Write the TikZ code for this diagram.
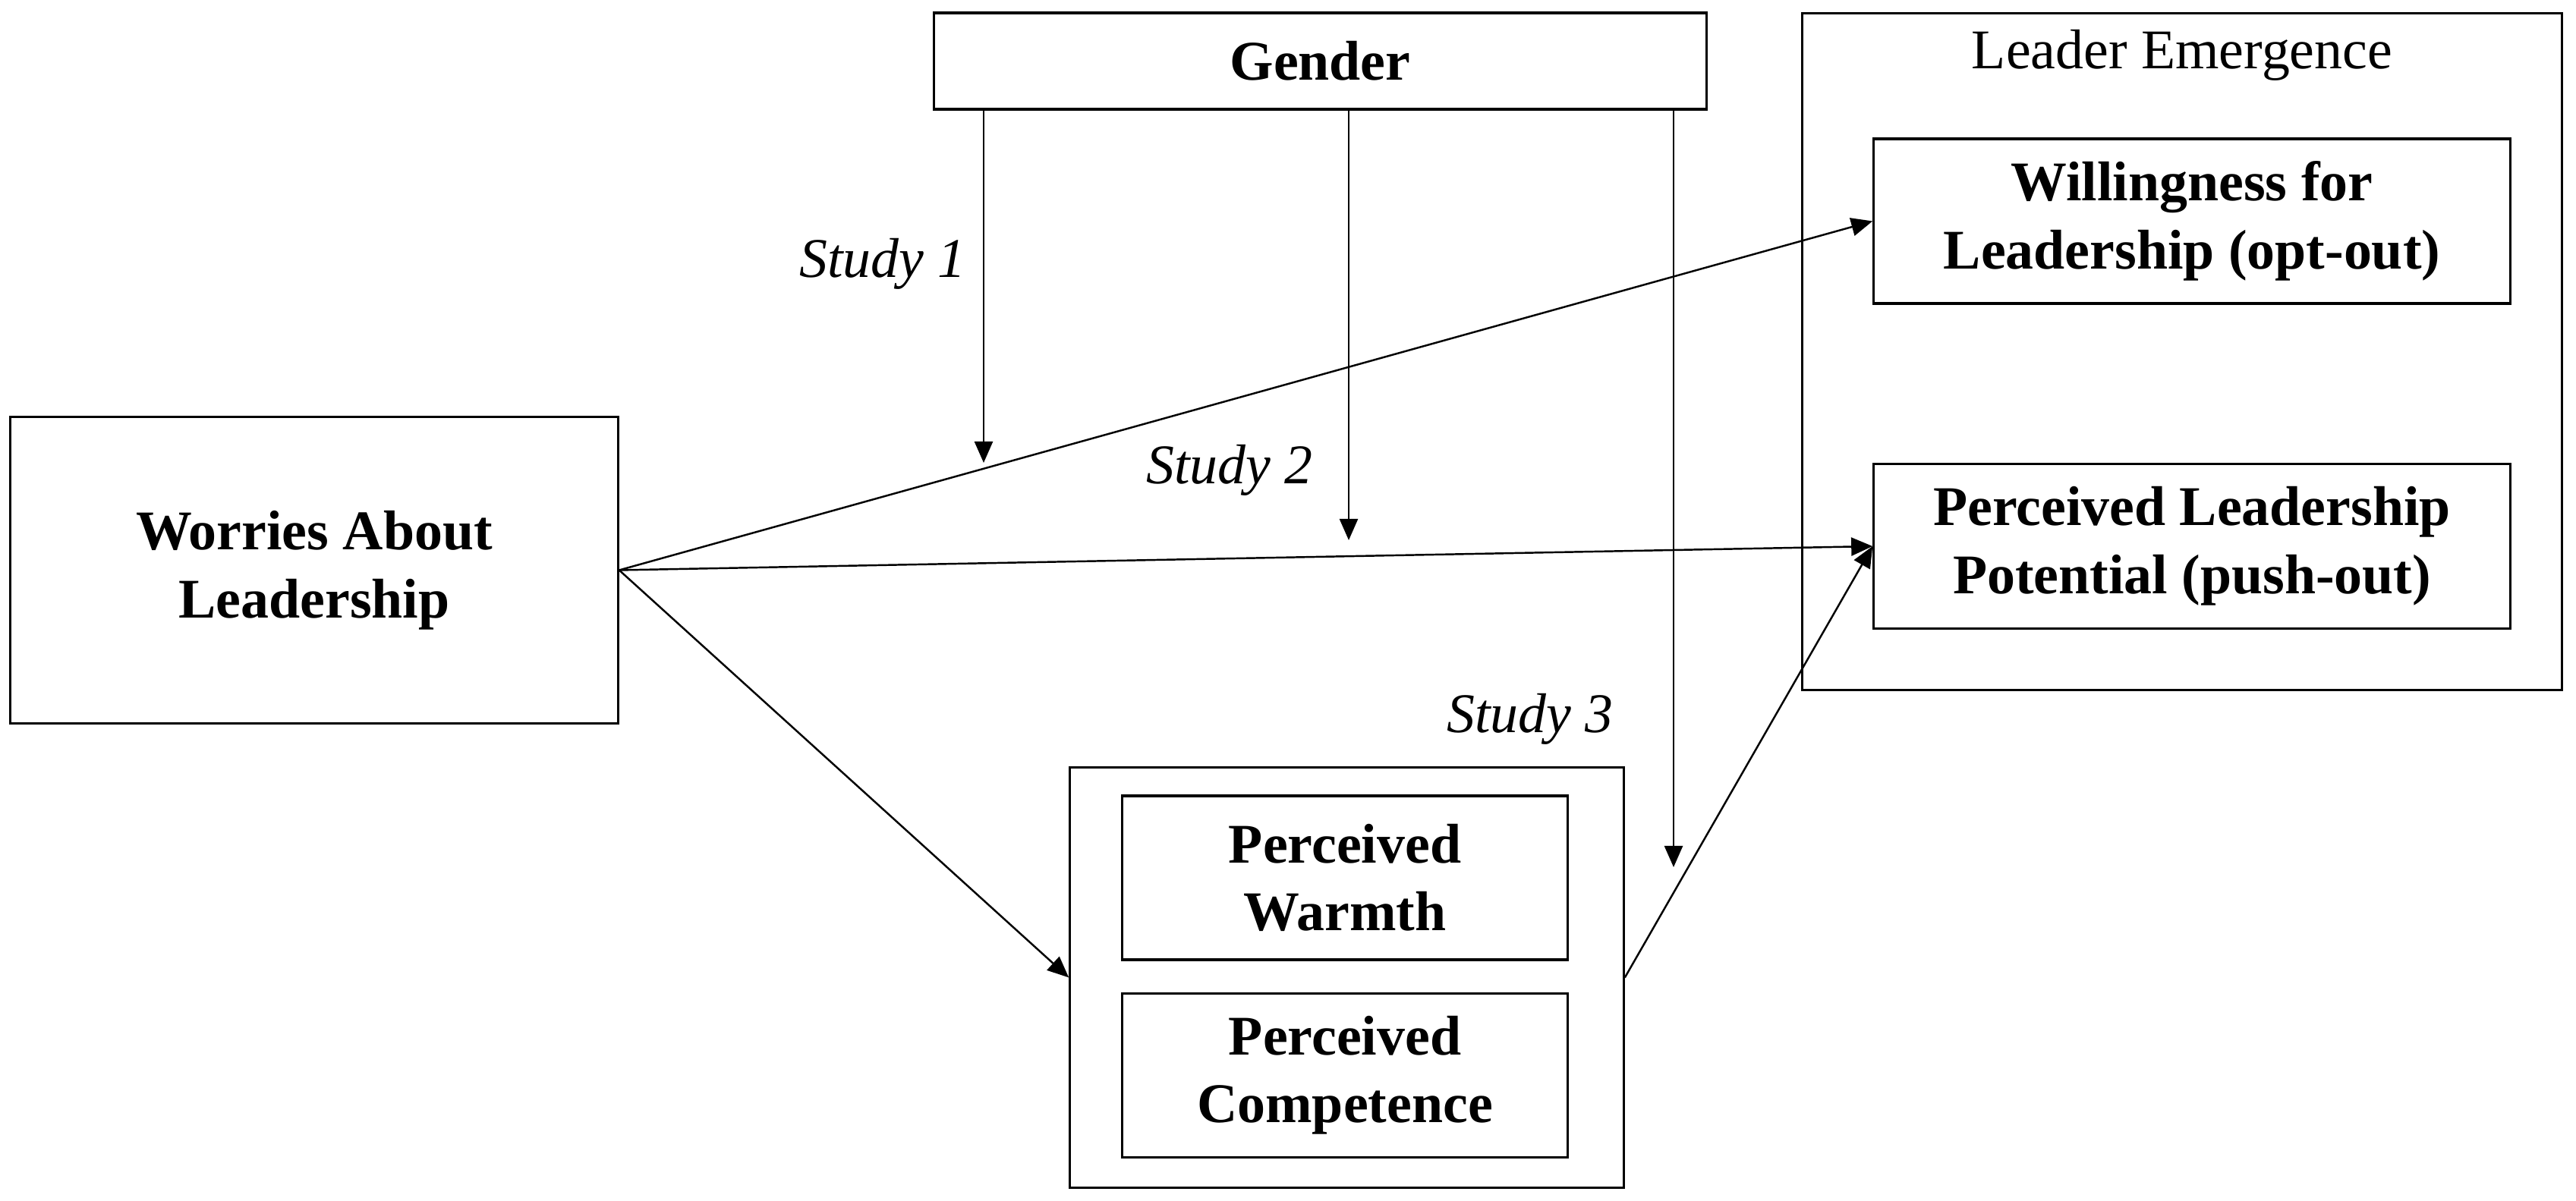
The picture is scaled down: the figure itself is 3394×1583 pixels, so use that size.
\documentclass[tikz,border=0pt]{standalone}
\usepackage{fontspec}
\setmainfont{Liberation Serif}
\usetikzlibrary{arrows.meta, positioning}

\begin{document}
\begin{tikzpicture}[
    x=0.01cm, y=-0.01cm,
    node distance=0.41cm,
    var/.style={rectangle, draw=black, line width=0.9pt, align=center,
                font=\fontsize{21}{25.5}\selectfont\bfseries, inner sep=0pt},
    group/.style={rectangle, draw=black, line width=0.9pt, inner sep=0pt},
    tag/.style={font=\fontsize{21}{25.5}\selectfont\itshape, inner sep=0pt},
    arrow/.style={-{Triangle[length=0.28cm, width=0.24cm]}, line width=0.7pt}
]
\useasboundingbox (0,0) rectangle (3394,1583);

%% --- PREDICTOR ---
\node[var, minimum width=8cm, minimum height=4.03cm] (worries) at (414,751.5)
    {Worries About\\Leadership};

%% --- MODERATOR ---
\node[var, minimum width=10.17cm, minimum height=1.27cm] (gender) at (1739.5,80.5)
    {Gender};

%% --- OUTCOMES (Leader Emergence) ---
\node[group, minimum width=10cm, minimum height=8.91cm] (emerge) at (2875,463.5) {};
\node[font=\fontsize{21}{25.5}\selectfont, inner sep=0pt,
      below=0.22cm of emerge.north] (emergelbl) {Leader Emergence};
\node[var, minimum width=8.38cm, minimum height=2.17cm] (lwill) at (2888,291.5)
    {Willingness for\\Leadership (opt-out)};
\node[var, minimum width=8.38cm, minimum height=2.17cm] (lpot) at (2888,720)
    {Perceived Leadership\\Potential (push-out)};

%% --- MEDIATORS (Study 3) ---
\node[group, minimum width=7.29cm, minimum height=5.53cm] (medgroup) at (1774.5,1288.5) {};
\node[var, minimum width=5.86cm, minimum height=2.16cm] (warmth) at (1772,1157)
    {Perceived\\Warmth};
\node[var, minimum width=5.86cm, minimum height=2.16cm, below=0.41cm of warmth] (compet)
    {Perceived\\Competence};

%% --- STUDY LABELS ---
\node[tag] (s1) at (1163,348) {Study 1};
\node[tag] (s2) at (1620,620) {Study 2};
\node[tag] (s3) at (2016,948) {Study 3};

%% --- MODERATION TARGETS ---
\coordinate (m1) at (1296,610);
\coordinate (m2) at (1777,712);
\coordinate (m3) at (2205,1143);

%% --- ARROWS: main paths ---
\draw[arrow] (worries.east)  -- (lwill.west);
\draw[arrow] (worries.east)  -- (lpot.west);
\draw[arrow] (worries.east)  -- (medgroup.west);
\draw[arrow] (medgroup.east) -- (lpot.west);

%% --- ARROWS: gender moderation ---
\draw[arrow] (gender.south -| m1) -- (m1);
\draw[arrow] (gender.south -| m2) -- (m2);
\draw[arrow] (gender.south -| m3) -- (m3);

\end{tikzpicture}
\end{document}
